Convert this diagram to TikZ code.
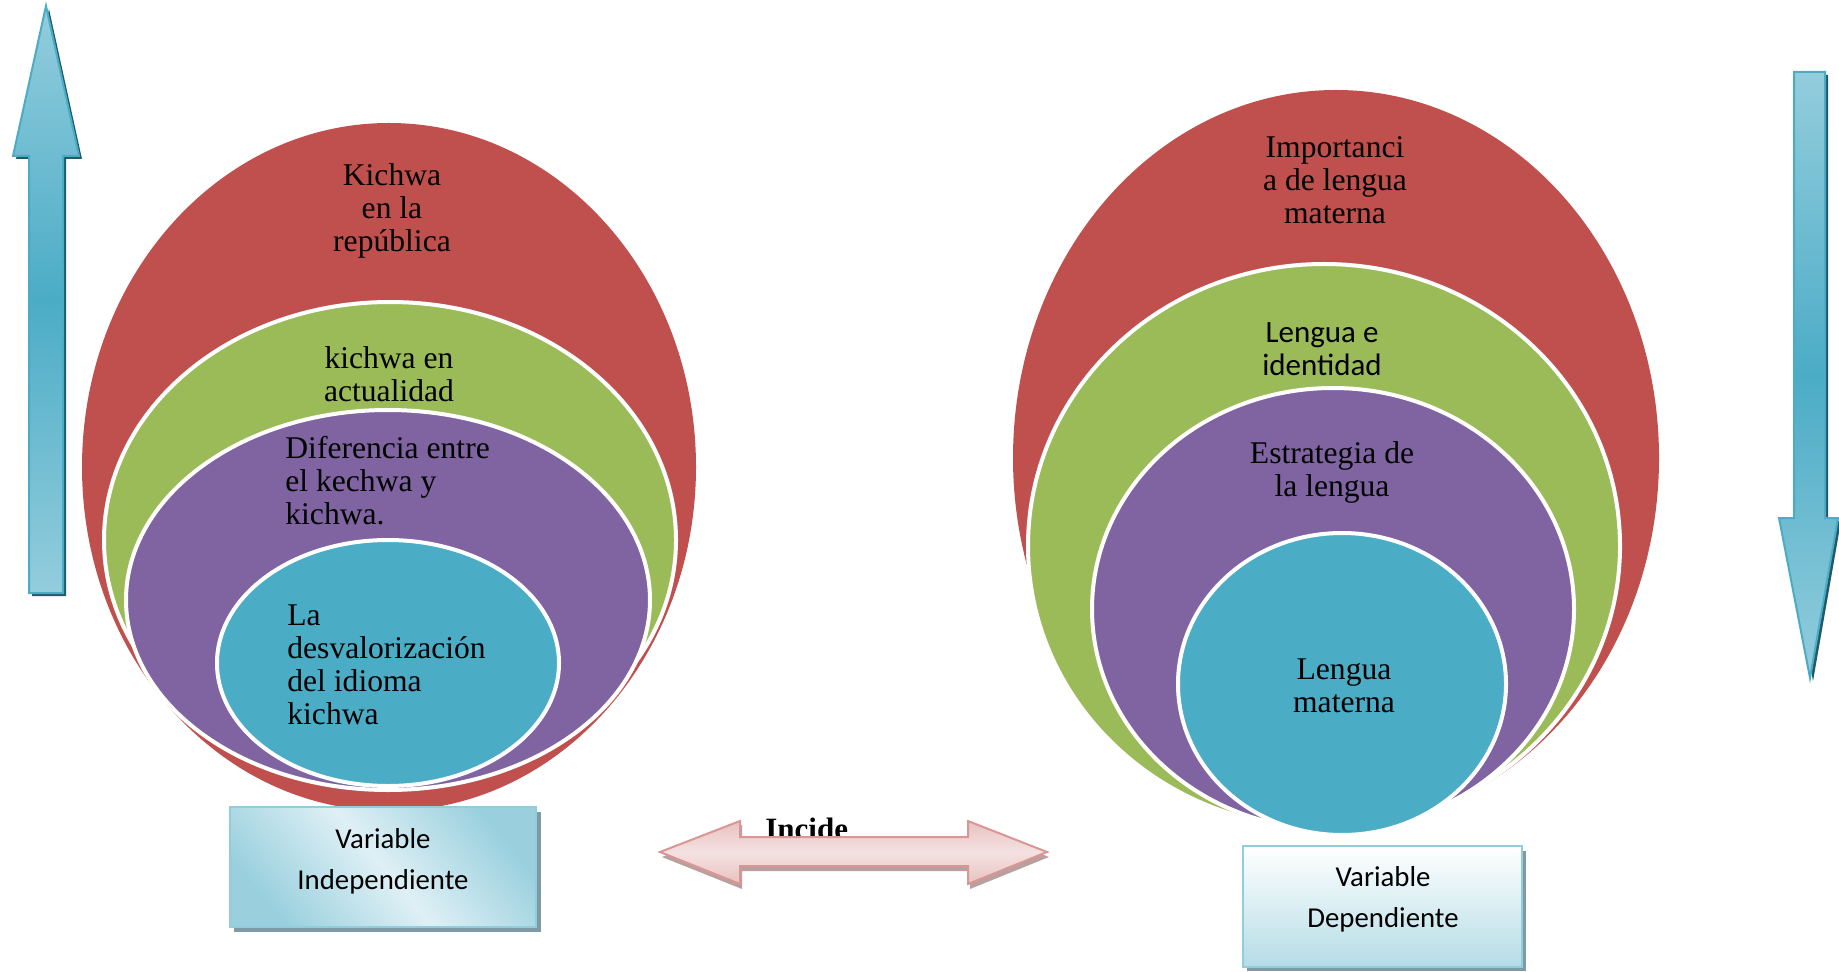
\documentclass[tikz,border=0pt]{standalone}
\usepackage{fontspec}
\setmainfont{Liberation Serif}
\newfontfamily\calib{Carlito}
\definecolor{cred}{HTML}{C0504D}
\definecolor{cgreen}{HTML}{9BBB59}
\definecolor{cpurple}{HTML}{8064A2}
\definecolor{cblue}{HTML}{4BACC6}
\definecolor{arlight}{HTML}{93CDDD}
\definecolor{ardark}{HTML}{4BACC6}
\definecolor{arshadow}{HTML}{215968}
\definecolor{pkborder}{HTML}{D99694}
\definecolor{pklight}{HTML}{F4E2E2}
\definecolor{pkmid}{HTML}{E9C1C0}
\definecolor{pkshadow}{HTML}{AE8E8E}
\definecolor{bxborder}{HTML}{92CDDC}
\definecolor{bxlight}{HTML}{DFF0F5}
\definecolor{bxdark}{HTML}{9AD0DE}
\definecolor{bxshadow}{HTML}{7E9AA4}
\definecolor{bxbottom}{HTML}{B4DCE6}
\begin{document}
\begin{tikzpicture}[x=0.5pt,y=-0.5pt,
  ring/.style={draw=white, line width=2pt},
  sertxt/.style={inner sep=0pt, font=\fontsize{15.8}{16.5}\selectfont},
  sanstxt/.style={inner sep=0pt, font=\calib\fontsize{15.5}{16.5}\selectfont},
  boxtxt/.style={inner sep=0pt, anchor=north, align=center, font=\calib\fontsize{14.4}{20.5}\selectfont},
  vararrow/.style={draw=ardark, line width=1pt, top color=arlight, bottom color=arlight, middle color=ardark},
  arshade/.style={fill=arshadow},
  incarrow/.style={draw=pkborder, line width=1pt, top color=pkmid, bottom color=pkmid, middle color=pklight},
]
\useasboundingbox (0,0) rectangle (1839,972);

% ---------- left cluster ----------
\fill[cred] (389,467) ellipse [x radius=307, y radius=344];
\filldraw[ring, fill=cgreen] (390,540) ellipse [x radius=286, y radius=238];
\filldraw[ring, fill=cpurple] (388,600) ellipse [x radius=262, y radius=190];
\filldraw[ring, fill=cblue] (388,663) ellipse [x radius=171, y radius=123];

\node[sertxt, anchor=north, align=center] (kr) at (392,162) {\strut Kichwa\\en la\\república};
\node[sertxt, anchor=north, align=center] (ka) at (389,345) {\strut kichwa en\\actualidad};
\node[sertxt, anchor=north west, align=left] (kd) at (285,435) {\strut Diferencia entre\\el kechwa y\\kichwa.};
\node[sertxt, anchor=north west, align=left] (kl) at (287,602) {\strut La\\desvalorización\\del idioma\\kichwa};

% ---------- right cluster ----------
\fill[cred] (1336,458) ellipse [x radius=323, y radius=368];
\filldraw[ring, fill=cgreen] (1324,546) ellipse [x radius=296, y radius=282];
\filldraw[ring, fill=cpurple] (1333,609) ellipse [x radius=241, y radius=221];
\filldraw[ring, fill=cblue] (1342,684) ellipse [x radius=164, y radius=151];

\node[sertxt, anchor=north, align=center] (li) at (1335,134) {\strut Importanci\\a de lengua\\materna};
\node[sanstxt, anchor=north, align=center] (le) at (1322,319) {\strut Lengua e\\identidad};
\node[sertxt, anchor=north, align=center] (ls) at (1332,440) {\strut Estrategia de\\la lengua};
\node[sertxt, anchor=north, align=center] (lm) at (1344,656) {\strut Lengua\\materna};

% ---------- vertical arrows ----------
\fill[arshade] (32,596) -- (32,159) -- (16,159) -- (49,9) -- (82,159) -- (66,159) -- (66,596) -- cycle;
\path[vararrow] (29,593) -- (29,156) -- (13,156) -- (46,6) -- (79,156) -- (63,156) -- (63,593) -- cycle;

\fill[arshade] (1797,75) -- (1828,75) -- (1828,521) -- (1841,521) -- (1813,681) -- (1782,521) -- (1797,521) -- cycle;
\path[vararrow] (1794,72) -- (1825,72) -- (1825,518) -- (1838,518) -- (1810,678) -- (1779,518) -- (1794,518) -- cycle;

% ---------- Incide ----------
\node[inner sep=0pt, anchor=base west, font=\bfseries\fontsize{15.5}{17}\selectfont] (inc) at (765,839) {Incide};
\fill[pkshadow, opacity=0.85] (662,857) -- (742,825) -- (742,841) -- (970,841) -- (970,825) -- (1049,857) -- (970,889) -- (970,871) -- (742,871) -- (742,889) -- cycle;
\path[incarrow] (660,852) -- (740,821) -- (740,837) -- (968,837) -- (968,821) -- (1047,852) -- (968,884) -- (968,866) -- (740,866) -- (740,884) -- cycle;

% ---------- boxes ----------
\fill[bxshadow] (234,812) rectangle (541,932);
\path[draw=bxborder, line width=1pt, shading=axis, top color=bxdark, bottom color=bxdark, middle color=bxlight, shading angle=-50] (230,807) rectangle (536,927);
\node[boxtxt] (vi) at (383,819) {\strut Variable\\Independiente};

\fill[bxshadow] (1247,851) rectangle (1526,971);
\path[draw=bxborder, line width=1pt, top color=white, bottom color=bxbottom] (1243,846) rectangle (1522,967);
\node[boxtxt] (vd) at (1383,857) {\strut Variable\\Dependiente};
\end{tikzpicture}
\end{document}
